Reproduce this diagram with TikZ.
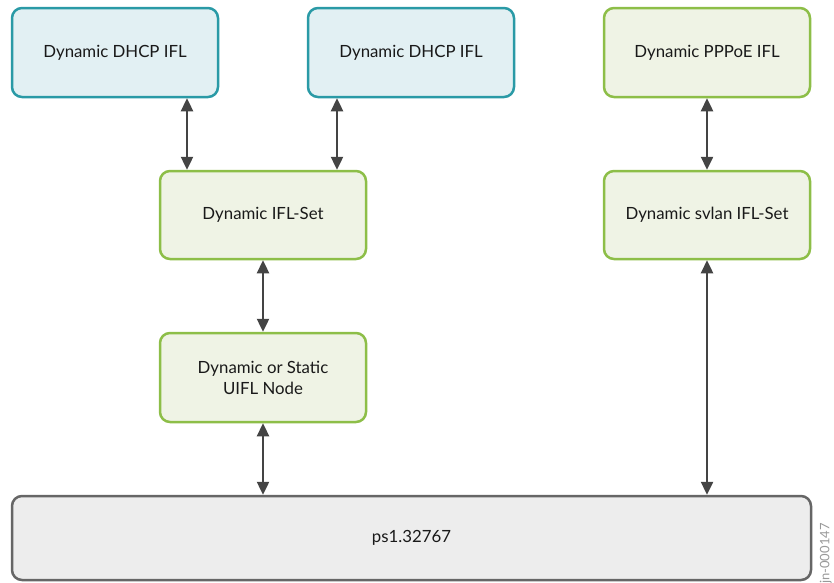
\documentclass[tikz,border=0pt]{standalone}
\usepackage{fontspec}
\setmainfont{Lato}
\usetikzlibrary{arrows.meta}
\definecolor{tealline}{HTML}{2A9AA6}
\definecolor{tealfill}{HTML}{E2F0F3}
\definecolor{greenline}{HTML}{8DBE48}
\definecolor{greenfill}{HTML}{EFF3E5}
\definecolor{grayline}{HTML}{666666}
\definecolor{grayfill}{HTML}{EDEDED}
\definecolor{arrowgray}{HTML}{444444}
\tikzset{
  box/.style={rounded corners=10pt, line width=2.5pt, inner sep=0pt,
    align=center, text=black!90, font=\fontsize{16.8}{21}\selectfont},
  dhcp/.style={box, draw=tealline, fill=tealfill},
  green/.style={box, draw=greenline, fill=greenfill},
  base/.style={box, draw=grayline, fill=grayfill},
  link/.style={arrowgray, line width=2.4pt,
    {Triangle[width=12pt,length=13pt]}-{Triangle[width=12pt,length=13pt]}},
}
\begin{document}
\begin{tikzpicture}[x=1pt,y=-1pt]
\useasboundingbox (0,0) rectangle (834,582);
% upper row
\node[dhcp, minimum width=206pt, minimum height=89pt] (d1) at (115,52.5) {Dynamic DHCP IFL};
\node[dhcp, minimum width=206pt, minimum height=89pt] (d2) at (411,52.5) {Dynamic DHCP IFL};
\node[green, minimum width=206pt, minimum height=89pt] (pp) at (707,52.5) {Dynamic PPPoE IFL};
% middle rows
\node[green, minimum width=206pt, minimum height=88pt] (set) at (263,215) {Dynamic IFL-Set};
\node[green, minimum width=206pt, minimum height=88pt] (sv) at (707,215) {Dynamic svlan IFL-Set};
\node[green, minimum width=206pt, minimum height=89pt] (ui) at (263,377.5) {Dynamic or Static\\UIFL Node};
% base
\node[base, minimum width=799pt, minimum height=84pt] (ps) at (411.5,538) {ps1.32767};
% connectors
\draw[link] (d1.south -| 187,0) -- (set.north -| 187,0);
\draw[link] (d2.south -| 337,0) -- (set.north -| 337,0);
\draw[link] (set.south) -- (ui.north);
\draw[link] (ui.south) -- (ps.north -| ui.south);
\draw[link] (pp.south) -- (sv.north);
\draw[link] (sv.south) -- (ps.north -| sv.south);
% figure id
\node[rotate=90, anchor=south west, text=gray!80, inner sep=0pt,
  font=\fontsize{13}{13}\selectfont] (id) at (832,584) {jn-000147};
\end{tikzpicture}
\end{document}
